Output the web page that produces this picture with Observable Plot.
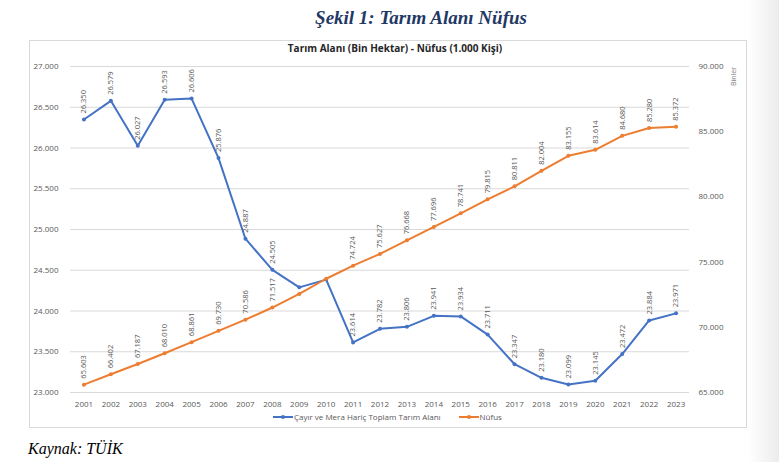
<!DOCTYPE html>
<html>
<head>
<meta charset="utf-8">
<script src="https://cdn.jsdelivr.net/npm/d3@7"></script>
<script src="https://cdn.jsdelivr.net/npm/@observablehq/plot@0.6"></script>
<style>
  html, body { margin: 0; padding: 0; background: #fff; }
  #page { position: relative; width: 779px; height: 462px; overflow: hidden; background: #fff; }
  #shade { position: absolute; left: 748px; top: 0; width: 31px; height: 462px;
           background: linear-gradient(to right, #ffffff, #ececec); }
  #fig-title { position: absolute; left: 0; width: 842px; top: 7px; text-align: center;
               font-family: "Liberation Serif", serif; font-style: italic; font-weight: bold;
               font-size: 19px; color: #1F3864; }
  #box { position: absolute; left: 29px; top: 40px; width: 716px; height: 386px;
         border: 1px solid #d9d9d9; background: #fff; }
  #chart-title { position: absolute; left: 0; width: 790px; top: 41px; text-align: center;
                 font-family: "Open Sans", sans-serif; font-weight: bold; font-size: 10px; color: #262626; }
  #plot { position: absolute; left: 0; top: 0; }
  #plot svg { background: transparent !important; }
  #binler { position: absolute; left: 724px; top: 72px; font-family: "Open Sans", sans-serif;
            font-size: 7px; color: #7f7f7f; transform: rotate(-90deg); transform-origin: center; }
  #legend { position: absolute; left: 273px; top: 411px; font-family: "Open Sans", sans-serif;
            font-size: 8px; color: #595959; display: flex; gap: 18px; align-items: center; }
  #legend .item { display: flex; align-items: center; gap: 1px; }
  #source { position: absolute; left: 28px; top: 440px; font-family: "Liberation Serif", serif;
            font-style: italic; font-size: 16px; color: #000; }
</style>
</head>
<body>
<div id="page">
  <div id="shade"></div>
  <div id="fig-title">Şekil 1: Tarım Alanı Nüfus</div>
  <div id="box"></div>
  <div id="chart-title">Tarım Alanı (Bin Hektar) - Nüfus (1.000 Kişi)</div>
  <div id="plot"></div>
  <div id="binler">Binler</div>
  <div id="legend"></div>
  <div id="source">Kaynak: TÜİK</div>
</div>
<script>
// ---- data ----
const years = [2001, 2002, 2003, 2004, 2005, 2006, 2007, 2008, 2009, 2010, 2011, 2012,
               2013, 2014, 2015, 2016, 2017, 2018, 2019, 2020, 2021, 2022, 2023];
const tarimAlani = [26350, 26579, 26027, 26593, 26606, 25876, 24887, 24505, 24290, 24385, 23614, 23782,
                    23806, 23941, 23934, 23711, 23347, 23180, 23099, 23145, 23472, 23884, 23971];
const nufus = [65603, 66402, 67187, 68010, 68861, 69730, 70586, 71517, 72561, 73723, 74724, 75627,
               76668, 77696, 78741, 79815, 80811, 82004, 83155, 83614, 84680, 85280, 85372];
const unlabeledYears = [2009, 2010];
const leftTicks = [23000, 23500, 24000, 24500, 25000, 25500, 26000, 26500, 27000];
const rightTicks = [65000, 70000, 75000, 80000, 85000, 90000];
const seriesNames = ["Çayır ve Mera Hariç Toplam Tarım Alanı", "Nüfus"];
const colors = ["#4472C4", "#ED7D31"];

// ---- helpers ----
const locale = d3.formatLocale({decimal: ",", thousands: ".", grouping: [3], currency: ["", ""]});
const fmt = v => locale.format(",.0f")(v);
// secondary axis mapped onto primary domain
const y2 = d3.scaleLinear().domain([65000, 90000]).range([23000, 27000]);

const rows = years.map((year, i) => ({year, tarim: tarimAlani[i], nufus: nufus[i]}));
const labeled = rows.filter(d => !unlabeledYears.includes(d.year));

const chart = Plot.plot({
  width: 779,
  height: 462,
  marginLeft: 70,
  marginRight: 90,
  marginTop: 66,
  marginBottom: 70,
  style: {fontFamily: "'Open Sans', sans-serif", fontSize: "8px", color: "#595959", background: "transparent"},
  x: {domain: [2000.5, 2023.5], axis: null},
  y: {domain: [23000, 27000], axis: null},
  marks: [
    Plot.gridY(leftTicks, {stroke: "#d9d9d9", strokeOpacity: 1, strokeWidth: 1}),
    Plot.axisY(leftTicks, {anchor: "left", label: null, tickSize: 0, tickPadding: 12, tickFormat: fmt, fill: "#595959", fontSize: 8}),
    Plot.axisY(rightTicks.map(v => y2(v)), {anchor: "right", label: null, tickSize: 0, tickPadding: 9,
      tickFormat: d => fmt(y2.invert(d)), fill: "#595959", fontSize: 8}),
    Plot.axisX(years, {anchor: "bottom", label: null, tickSize: 0, tickPadding: 9, tickFormat: d => String(d), fill: "#595959", fontSize: 8}),
    Plot.line(rows, {x: "year", y: "tarim", stroke: colors[0], strokeWidth: 2}),
    Plot.dot(rows, {x: "year", y: "tarim", r: 2, fill: colors[0], stroke: "none"}),
    Plot.line(rows, {x: "year", y: d => y2(d.nufus), stroke: colors[1], strokeWidth: 2}),
    Plot.dot(rows, {x: "year", y: d => y2(d.nufus), r: 2, fill: colors[1], stroke: "none"}),
    Plot.text(labeled, {x: "year", y: "tarim", text: d => fmt(d.tarim), rotate: -90, textAnchor: "start",
      dy: -6, fill: "#595959", fontSize: 7.5}),
    Plot.text(labeled, {x: "year", y: d => y2(d.nufus), text: d => fmt(d.nufus), rotate: -90, textAnchor: "start",
      dy: -6, fill: "#595959", fontSize: 7.5})
  ]
});
document.getElementById("plot").appendChild(chart);

// ---- legend ----
const legend = document.getElementById("legend");
seriesNames.forEach((name, i) => {
  const item = document.createElement("div");
  item.className = "item";
  item.innerHTML = `<svg width="20" height="6"><line x1="0" y1="3" x2="20" y2="3" stroke="${colors[i]}" stroke-width="2"/><circle cx="10" cy="3" r="2" fill="${colors[i]}"/></svg><span>${name}</span>`;
  legend.appendChild(item);
});
</script>
</body>
</html>
